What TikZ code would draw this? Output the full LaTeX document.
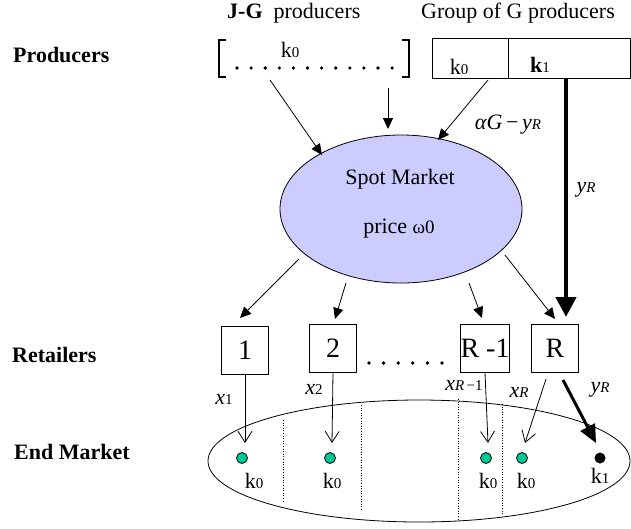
\documentclass[tikz,border=0pt]{standalone}
\usepackage{fontspec}
\setmainfont{Liberation Serif}
\usetikzlibrary{arrows.meta,shapes.geometric}
\definecolor{smfill}{HTML}{CCCCFF}
\definecolor{dotgreen}{HTML}{00C896}
\newcommand\bigf{\fontsize{22}{26}\selectfont}
\newcommand\smallf{\fontsize{15}{17}\selectfont}
\newcommand\kzero{k{\smallf 0}}
\begin{document}
\begin{tikzpicture}[x=1pt,y=-1pt,
  every node/.style={font=\bigf, inner sep=0pt},
  thin line/.style={line width=0.8pt},
  farrow/.style={thin line,-{Triangle[length=11pt,width=10pt]}},
  varrow/.style={thin line,-{Straight Barb[length=11pt,width=14pt]}},
  thickarrow/.style={line width=4.5pt,-{Triangle[length=20pt,width=20pt]}},
  retbox/.style={draw,thin line,minimum width=47pt,minimum height=48pt,font=\fontsize{28}{30}\selectfont},
  dotline/.style={line width=0.6pt,dotted},
  gdot/.style={circle,draw,line width=0.8pt,fill=dotgreen,minimum size=11pt},
  bdot/.style={circle,fill=black,minimum size=11pt}]
\useasboundingbox (0,0) rectangle (631,528);

% left labels
\node[anchor=west,font=\bigf\bfseries] (lprod) at (13,55) {Producers};
\node[anchor=west,font=\bigf\bfseries] (lret) at (12,355) {Retailers};
\node[anchor=west,font=\bigf\bfseries] (lend) at (14,452) {End Market};

% top titles
\node[anchor=west] (tjg) at (227,13) {\textbf{J-G}\ \ producers};
\node[anchor=west] (tg) at (421,13) {Group of G producers};

% bracket of J-G producers
\draw[line width=2.2pt] (226,40) -- (219,40) -- (219,77) -- (226,77);
\draw[line width=2.2pt] (402,40) -- (409,40) -- (409,77) -- (402,77);
\foreach \i in {0,...,11} \fill (237+\i*14.1,68) circle (1.8);
\node (kjg) at (290,50) {\kzero};

% group box
\node[draw,thin line,minimum width=76pt,minimum height=40pt] (gk0) at (470,58) {};
\node[draw,thin line,minimum width=122pt,minimum height=40pt] (gk1) at (569,58) {};
\node at (459,67) {\kzero};
\node at (540,65) {\textbf{k}{\smallf 1}};

% spot market
\node[ellipse,draw,thin line,fill=smfill,minimum width=242pt,minimum height=148pt] (sm) at (401,209) {};
\node (smt) at (400,179) {Spot Market};
\node (smp) at (399,229) {price {\fontsize{19}{19}\selectfont ω0}};

% arrows into spot market
\coordinate (s1) at (270,80);
\coordinate (e1) at (322,155);
\coordinate (s2) at (388,88);
\coordinate (e2) at (388,129);
\coordinate (s3) at (488,80);
\coordinate (e3) at (438,140);
\draw[farrow] (s1) -- (e1);
\draw[farrow] (s2) -- (e2);
\draw[farrow] (s3) -- (e3);
\node (lag) at (508,125) {\textit{αG}\,−\,\textit{y}{\smallf\textit{R}}};

% thick arrow k1 -> R
\coordinate (tk) at (566,78);
\coordinate (tr) at (566,317);
\draw[thickarrow] (tk) -- (tr);
\node (lyr1) at (586,190) {\textit{y}{\smallf\textit{R}}};

% retailers
\node[retbox] (r1) at (245,350) {1};
\node[retbox] (r2) at (333,348) {2};
\node[retbox] (rr1) at (485,348) {R -1};
\node[retbox] (rr) at (555,348) {R};
\foreach \i in {0,...,5} \fill (369+\i*14.6,363) circle (1.9);

% spot market -> retailers
\coordinate (o1) at (299,259);
\coordinate (i1) at (240,318);
\coordinate (o2) at (346,283);
\coordinate (i2) at (335,319);
\coordinate (o3) at (469,283);
\coordinate (i3) at (482,318);
\coordinate (o4) at (505,255);
\coordinate (i4) at (555,319);
\draw[farrow] (o1) -- (i1);
\draw[farrow] (o2) -- (i2);
\draw[farrow] (o3) -- (i3);
\draw[farrow] (o4) -- (i4);

% end market
\node[ellipse,draw,thin line,minimum width=422pt,minimum height=122pt] (em) at (419,461) {};
\draw[dotline] (283,420) -- (283,502);
\draw[dotline] (361,405) -- (361,511);
\draw[dotline] (458,399) -- (458,521);
\draw[dotline] (502,404) -- (502,515);

\node[gdot] (d1) at (242,458) {};
\node[gdot] (d2) at (330,458) {};
\node[gdot] (d3) at (486,458) {};
\node[gdot] (d4) at (522,458) {};
\node[bdot] (d5) at (600,458) {};
\node (k1) at (254,481) {\kzero};
\node (k2) at (332,481) {\kzero};
\node (k3) at (488,481) {\kzero};
\node (k4) at (526,481) {\kzero};
\node (k5) at (600,476) {k{\smallf 1}};

% retailers -> end market
\coordinate (f1) at (245,443);
\coordinate (f2) at (332,443);
\coordinate (f3) at (488,443);
\coordinate (g4) at (546,379);
\coordinate (f4) at (525,443);
\coordinate (g5) at (563,380);
\coordinate (f5) at (596,443);
\draw[varrow] (r1.south) -- (f1);
\draw[varrow] (r2.south) -- (f2);
\draw[varrow] (rr1.south) -- (f3);
\draw[varrow] (g4) -- (f4);
\draw[line width=3pt,-{Triangle[length=18pt,width=16pt]}] (g5) -- (f5);

\node (lx1) at (224,399) {\textit{x}{\smallf 1}};
\node (lx2) at (314,389) {\textit{x}{\smallf 2}};
\node (lxr1) at (464,385) {\textit{x}{\smallf\textit{R}\,−1}};
\node (lxr) at (519,392) {\textit{x}{\smallf\textit{R}}};
\node (lyr2) at (600,390) {\textit{y}{\smallf\textit{R}}};
\end{tikzpicture}
\end{document}
